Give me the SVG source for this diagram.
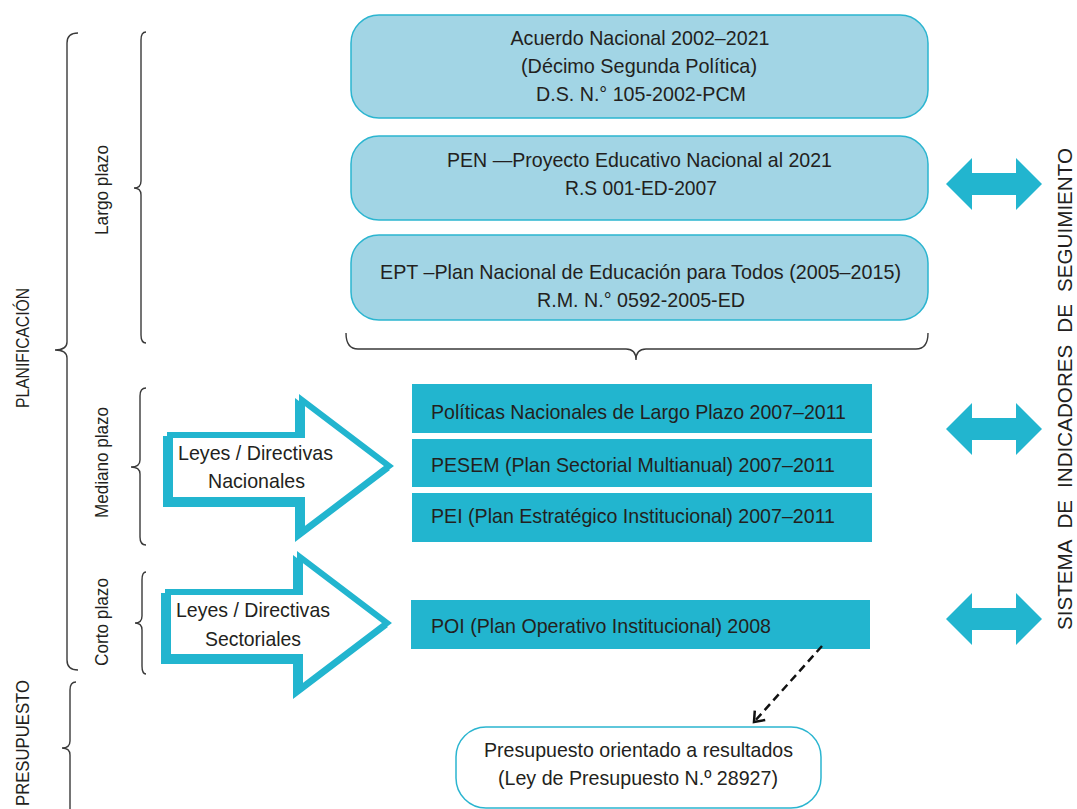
<svg xmlns="http://www.w3.org/2000/svg" width="1077" height="809" viewBox="0 0 1077 809">
<defs>
<style>
.t{font-family:"Liberation Sans",Arial,sans-serif;fill:#231F20;}
.b{font-size:21px;}
.m{text-anchor:middle;}
.lb{fill:#A2D5E5;stroke:#2BB5D0;stroke-width:1.5;}
.sb{fill:#22B5CF;}
.br{fill:none;stroke:#3A3A3A;stroke-width:1.4;}
.ha{fill:#FFFFFF;stroke:#22B5CF;stroke-width:6;stroke-linejoin:miter;}
.da{fill:#22B5CF;}
</style>
<marker id="vhead" viewBox="0 0 20 20" refX="10" refY="10" markerWidth="20" markerHeight="20" markerUnits="userSpaceOnUse" orient="auto">
<path d="M1,3 L10,10 L1,17" fill="none" stroke="#111" stroke-width="2.5"/>
</marker>
</defs>

<g id="braces">
<path class="br" d="M78,33 Q67,33 67,43 L67,342 Q67,350 55,350 Q67,350 67,358 L67,660 Q67,670 78,670"/>
<path class="br" d="M146,32 Q141,32 141,40 L141,181 Q141,188 134,188 Q141,188 141,195 L141,335 Q141,343 146,343"/>
<path class="br" d="M146,388 Q140,388 140,396 L140,460 Q140,467 131,467 Q140,467 140,474 L140,537 Q140,545 146,545"/>
<path class="br" d="M146,572 Q142,572 142,580 L142,616 Q142,623 135,623 Q142,623 142,630 L142,666 Q142,674 146,674"/>
<path class="br" d="M76,682 Q70,682 70,690 L70,741 Q70,748 62,748 Q70,748 70,755 L70,830"/>
<path class="br" d="M346,333 Q346,349 358,349 L626,349 Q636,349 636,360 Q636,349 646,349 L916,349 Q928,349 928,333"/>
</g>

<g id="side-labels">
<text class="t" font-size="19" transform="translate(29,348) rotate(-90)" text-anchor="middle" textLength="120" lengthAdjust="spacingAndGlyphs">PLANIFICACIÓN</text>
<text class="t" font-size="19" transform="translate(29,806) rotate(-90)" textLength="126" lengthAdjust="spacingAndGlyphs">PRESUPUESTO</text>
<text class="t" font-size="17.5" transform="translate(108,190) rotate(-90)" text-anchor="middle" textLength="90" lengthAdjust="spacingAndGlyphs">Largo plazo</text>
<text class="t" font-size="17.5" transform="translate(108,462.5) rotate(-90)" text-anchor="middle" textLength="111" lengthAdjust="spacingAndGlyphs">Mediano plazo</text>
<text class="t" font-size="17.5" transform="translate(108,622) rotate(-90)" text-anchor="middle" textLength="88" lengthAdjust="spacingAndGlyphs">Corto plazo</text>
<text class="t" font-size="19.5" transform="translate(1072,389) rotate(-90)" text-anchor="middle" word-spacing="6" textLength="482" lengthAdjust="spacingAndGlyphs">SISTEMA DE INDICADORES DE SEGUIMIENTO</text>
</g>

<g id="acuerdo">
<rect class="lb" x="351" y="15" width="577" height="103" rx="28"/>
<text class="t b m" x="640" y="45" textLength="259" lengthAdjust="spacingAndGlyphs">Acuerdo Nacional 2002–2021</text>
<text class="t b m" x="639" y="73" textLength="236" lengthAdjust="spacingAndGlyphs">(Décimo Segunda Política)</text>
<text class="t b m" x="641" y="101" textLength="210" lengthAdjust="spacingAndGlyphs">D.S. N.° 105-2002-PCM</text>
</g>

<g id="pen">
<rect class="lb" x="351" y="136" width="577" height="84" rx="28"/>
<text class="t b m" x="639.5" y="167" textLength="385" lengthAdjust="spacingAndGlyphs">PEN —Proyecto Educativo Nacional al 2021</text>
<text class="t b m" x="641" y="195" textLength="152" lengthAdjust="spacingAndGlyphs">R.S 001-ED-2007</text>
</g>

<g id="ept">
<rect class="lb" x="351" y="235" width="577" height="85" rx="28"/>
<text class="t b m" x="640.5" y="279" textLength="521" lengthAdjust="spacingAndGlyphs">EPT –Plan Nacional de Educación para Todos (2005–2015)</text>
<text class="t b m" x="641" y="307" textLength="208" lengthAdjust="spacingAndGlyphs">R.M. N.° 0592-2005-ED</text>
</g>

<g id="politicas">
<rect class="sb" x="412" y="384" width="460" height="49"/>
<text class="t b" x="431" y="419" textLength="415" lengthAdjust="spacingAndGlyphs">Políticas Nacionales de Largo Plazo 2007–2011</text>
</g>
<g id="pesem">
<rect class="sb" x="412" y="439" width="460" height="48"/>
<text class="t b" x="431" y="471.5" textLength="404" lengthAdjust="spacingAndGlyphs">PESEM (Plan Sectorial Multianual) 2007–2011</text>
</g>
<g id="pei">
<rect class="sb" x="412" y="493" width="460" height="49"/>
<text class="t b" x="431" y="522.5" textLength="404" lengthAdjust="spacingAndGlyphs">PEI (Plan Estratégico Institucional) 2007–2011</text>
</g>
<g id="poi">
<rect class="sb" x="411" y="600" width="459" height="49"/>
<text class="t b" x="431" y="633" textLength="340" lengthAdjust="spacingAndGlyphs">POI (Plan Operativo Institucional) 2008</text>
</g>

<g id="presupuesto">
<rect x="456" y="727" width="365" height="81" rx="30" fill="#FFFFFF" stroke="#2BB5D0" stroke-width="1.5"/>
<text class="t b m" x="638.5" y="756.5" textLength="309" lengthAdjust="spacingAndGlyphs">Presupuesto orientado a resultados</text>
<text class="t b m" x="638" y="784.5" textLength="280" lengthAdjust="spacingAndGlyphs">(Ley de Presupuesto N.º 28927)</text>
</g>

<g id="leyes-nacionales">
<polygon class="ha" points="166,439 298,439 298,404 385,470 298,536 298,504 166,504"/>
<polygon class="ha" points="170,435 302,435 302,400 389,466 302,532 302,500 170,500"/>
<text class="t b m" x="255.5" y="460" textLength="155" lengthAdjust="spacingAndGlyphs">Leyes / Directivas</text>
<text class="t b m" x="256.5" y="488" textLength="97" lengthAdjust="spacingAndGlyphs">Nacionales</text>
</g>

<g id="leyes-sectoriales">
<polygon class="ha" points="164,596 296,596 296,561 383,627 296,693 296,661 164,661"/>
<polygon class="ha" points="168,592 300,592 300,557 387,623 300,689 300,657 168,657"/>
<text class="t b m" x="253" y="617" textLength="154" lengthAdjust="spacingAndGlyphs">Leyes / Directivas</text>
<text class="t b m" x="253" y="646" textLength="96" lengthAdjust="spacingAndGlyphs">Sectoriales</text>
</g>

<g id="connectors">
<polygon class="da" points="946,184 972,158 972,173 1016,173 1016,158 1042,184 1016,210 1016,195 972,195 972,210"/>
<polygon class="da" points="946,429 972,403 972,418 1016,418 1016,403 1042,429 1016,455 1016,440 972,440 972,455"/>
<polygon class="da" points="946,619 972,593 972,608 1016,608 1016,593 1042,619 1016,645 1016,630 972,630 972,645"/>
<line x1="822" y1="646" x2="754" y2="722" stroke="#111" stroke-width="2.5" stroke-dasharray="8 5" marker-end="url(#vhead)"/>
</g>
</svg>
